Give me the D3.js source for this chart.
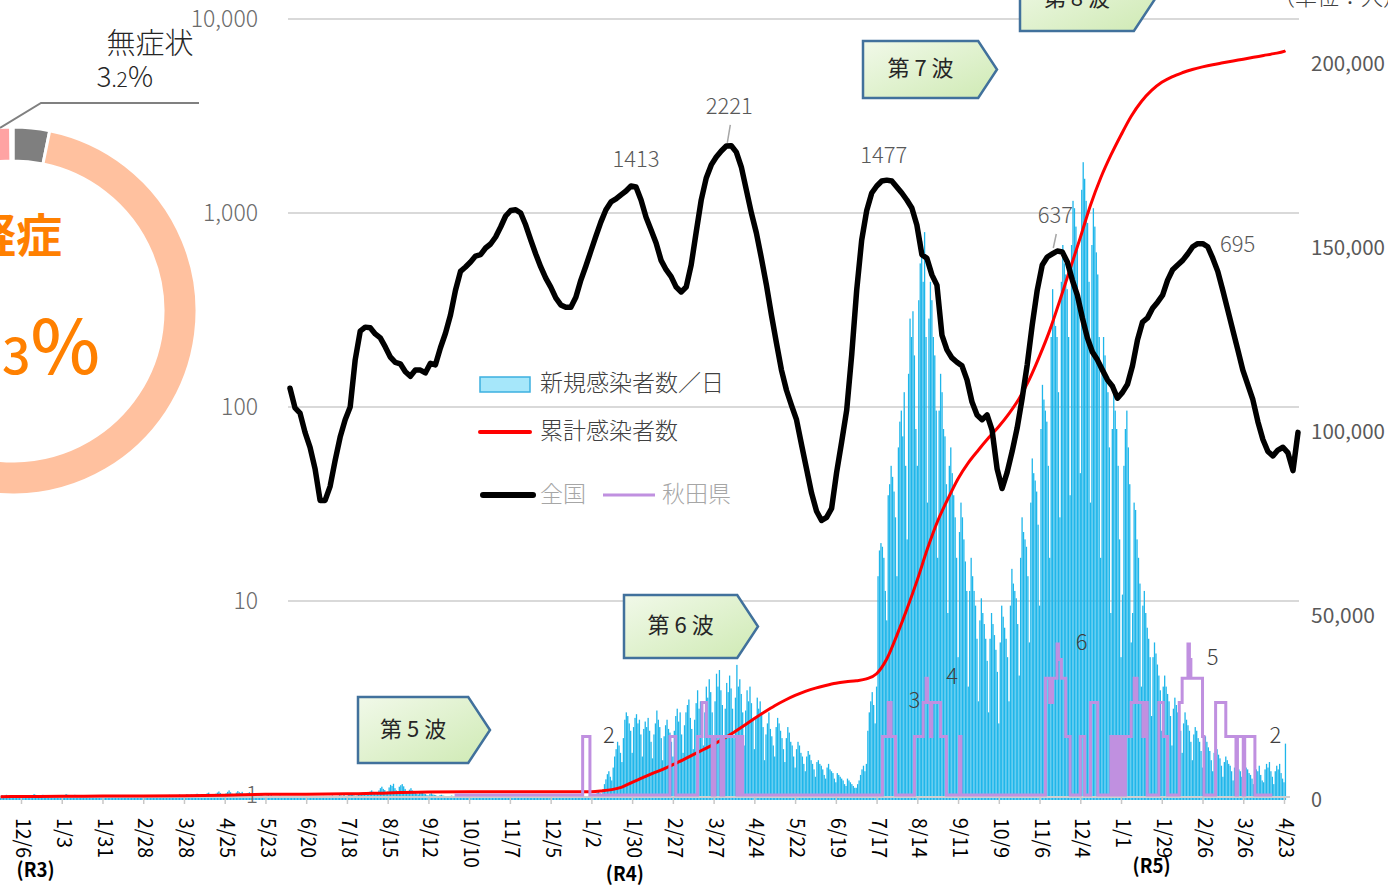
<!DOCTYPE html>
<html><head><meta charset="utf-8">
<script src="https://cdn.jsdelivr.net/npm/d3@7"></script>
<style>
html,body{margin:0;padding:0;background:#fff;overflow:hidden}
svg{display:block}
text{font-family:"Noto Sans CJK JP","Noto Sans",sans-serif}
</style></head><body>
<svg id="c" width="1388" height="885"></svg>
<script>
// ---------------- DATA ----------------
const barStart = "2020-11-22";
const dailyNew = [
2,5,3,4,6,2,1, 1,3,2,0,4,2,1, 0,2,5,3,1,2,0, 1,4,8,6,3,2,1, 2,6,4,3,5,1,0,
0,1,3,2,4,1,0, 1,3,5,8,6,4,2, 2,4,6,3,2,1,3, 1,2,4,3,1,0,2, 1,0,2,1,3,1,0,
0,1,0,2,1,0,1, 0,2,1,0,3,1,0, 1,0,2,4,1,0,0, 0,1,3,2,1,0,1, 1,2,0,1,3,2,0,
0,1,2,5,3,1,2, 1,3,4,2,6,3,1, 2,4,3,5,7,2,1, 3,5,8,6,4,7,3, 2,6,9,7,5,8,4,
3,7,10,12,8,6,5, 4,9,12,15,11,8,6, 5,10,14,18,13,9,7, 6,12,16,13,11,14,8, 5,9,11,13,8,6,4,
3,6,8,5,7,4,2, 2,4,6,3,5,2,1, 1,3,2,4,2,1,0, 0,2,1,3,1,0,1, 1,0,2,1,0,1,0,
0,1,0,2,1,0,0, 0,1,2,0,1,3,1, 1,2,3,1,4,2,1, 2,3,5,4,3,6,2, 3,5,7,6,8,4,3,
4,8,10,9,12,7,5, 6,12,15,18,14,11,8, 9,18,24,28,22,19,14, 15,26,33,30,36,24,18, 16,28,32,35,29,22,15,
12,20,24,18,16,14,9, 7,12,15,11,9,8,5, 4,8,10,7,6,5,3, 3,5,6,4,3,2,1, 1,3,4,2,2,1,0,
0,2,1,3,1,0,1, 1,0,2,1,0,1,0, 0,1,0,0,1,0,0, 0,0,1,0,0,1,0, 0,1,0,0,2,0,0,
0,0,1,1,0,0,0, 0,1,0,0,0,1,0, 0,0,0,1,0,0,0, 0,1,0,0,0,0,1, 0,0,1,0,0,0,0,
0,0,0,1,0,2,0, 0,1,0,0,1,0,0, 0,0,1,2,1,3,2, 1,3,5,8,12,15,10, 8,20,35,48,62,70,55,
45,80,110,130,150,140,120, 95,160,210,230,220,200,180, 120,190,215,225,200,210,170,
110,185,205,190,215,180,150, 105,170,200,235,210,190,160, 100,165,195,210,185,175,150,
110,180,220,240,205,230,170, 120,195,230,250,265,215,185, 130,210,255,290,240,260,200,
140,230,300,270,320,285,230, 150,260,335,300,345,290,250, 145,240,310,285,330,295,240,
160,270,359,300,320,280,230, 140,235,290,260,300,255,210, 130,215,270,240,260,230,190,
100,170,200,230,185,165,140, 110,190,215,200,180,160,130, 95,160,190,175,150,140,110,
80,130,150,140,120,110,90, 70,110,125,115,100,90,75, 55,95,100,90,85,75,60,
50,80,90,75,70,65,50, 40,65,60,55,50,45,35, 30,50,45,40,35,30,25,
25,35,45,60,75,85,70, 90,180,230,260,285,250,200, 300,600,670,690,680,650,560,
480,820,850,900,870,830,760, 600,950,1020,1050,980,1100,900, 700,1150,1300,1250,1320,1200,1000,
900,1350,1450,1510,1400,1535,1250, 800,1300,1400,1350,1250,1200,1050, 650,1050,1150,1100,1000,980,850,
500,900,950,880,820,760,650, 380,720,800,760,700,640,560, 300,560,650,600,560,520,430,
260,480,540,500,470,430,370, 230,430,500,470,440,400,340, 200,420,520,490,460,430,380,
260,520,620,580,560,540,470, 330,650,760,720,700,680,600, 420,800,920,880,860,830,740,
520,1000,1120,1080,1050,1020,900, 650,1250,1380,1300,1280,1250,1100, 760,1400,1500,1450,1420,1380,1250,
820,1500,1620,1600,1550,1500,1350, 880,1650,1725,1680,1620,1560,1400, 800,1500,1600,1550,1480,1420,1250,
650,1150,1250,1200,1150,1100,950, 500,1000,1100,1050,1000,900,700, 380,550,900,1000,1050,950,850,
420,500,800,780,700,650,580, 300,520,560,500,460,430,380, 220,380,420,390,360,330,290,
180,300,330,300,280,260,220, 140,240,270,250,230,210,180, 120,200,230,210,195,180,150,
100,170,190,180,160,150,125, 80,140,165,150,135,125,100, 70,120,140,130,115,105,85,
55,95,110,100,90,85,70, 45,80,95,85,75,70,55, 40,70,80,75,65,60,50,
35,65,75,70,85,60,45, 40,75,90,80,95,70,55, 35,70,85,75,90,65,50,
40,145
];

const cumDates = ["2020-11-22","2020-12-06","2021-01-03","2021-01-31","2021-02-28","2021-03-28","2021-04-25","2021-05-23","2021-06-20","2021-07-18","2021-08-15","2021-09-12","2021-10-10","2021-11-07","2021-12-05",
"2022-01-02","2022-01-09","2022-01-16","2022-01-23","2022-01-30","2022-02-06","2022-02-13","2022-02-20","2022-02-27","2022-03-06","2022-03-13","2022-03-20","2022-03-27","2022-04-03","2022-04-10","2022-04-17","2022-04-24","2022-05-01","2022-05-08","2022-05-15","2022-05-22","2022-05-29","2022-06-05","2022-06-12","2022-06-19","2022-06-26","2022-07-03","2022-07-10","2022-07-17","2022-07-24","2022-07-31","2022-08-07","2022-08-14","2022-08-21","2022-08-28","2022-09-04","2022-09-11","2022-09-18","2022-09-25","2022-10-02","2022-10-09","2022-10-16","2022-10-23","2022-10-30","2022-11-06","2022-11-13","2022-11-20","2022-11-27","2022-12-04","2022-12-11","2022-12-18","2022-12-25",
"2023-01-01","2023-01-08","2023-01-15","2023-01-22","2023-01-29","2023-02-05","2023-02-12","2023-02-19","2023-02-26","2023-03-05","2023-03-12","2023-03-19","2023-03-26","2023-04-02","2023-04-09","2023-04-16","2023-04-23","2023-04-24"];
const cumValues = [100,120,200,250,270,330,500,720,780,850,1100,1350,1400,1410,1420,
1450,1650,2000,2700,4000,5200,6400,7500,8800,10100,11500,12900,14300,15900,17600,19400,21300,23100,24800,26300,27600,28700,29600,30300,30900,31300,31600,32100,33500,37500,44000,51200,59000,67500,75000,81000,86500,90800,94300,97600,100700,104200,108300,113500,119800,126800,135000,143500,152000,160800,168200,174400,
179900,185000,189000,192000,194200,195700,196800,197700,198400,199000,199500,200000,200500,201000,201500,202000,202600,202800];

const nationalValues = [
125,99,93,74,62,48,33,33,39,53,70,86,100,175,246,258,256,238,227,204,
181,170,167,152,144,155,155,150,168,165,202,240,298,400,500,527,559,600,610,660,
692,752,847,965,1030,1040,1000,867,726,615,527,462,415,365,336,327,327,368,451,533,
637,761,900,1040,1140,1181,1240,1298,1378,1362,1167,950,817,700,570,510,470,415,392,415,
540,798,1167,1515,1770,1944,2088,2215,2221,2060,1726,1314,1000,789,585,425,298,214,155,122,
102,86,64,48,36,29,26,27,30,46,66,96,185,400,726,1030,1268,1378,1462,1477,
1462,1362,1268,1167,1061,867,610,585,480,425,235,197,179,170,163,138,106,91,86,91,
76,48,38,46,59,78,111,165,264,400,540,593,615,637,630,559,451,377,288,227,
192,175,155,138,128,111,119,131,163,222,274,288,323,347,377,451,510,540,570,615,
670,695,695,670,585,500,400,316,249,197,155,130,109,84,68,59,56,60,62,58,
47,74
];
const nationalLabelIdx = [68, 88, 119, 153, 181];
const nationalLabelText = ["1413","2221","1477","637","695"];

const akitaRunDates = ["2021-09-30","2021-12-27","2022-01-01","2022-02-25","2022-03-01","2022-03-16","2022-03-19","2022-03-22","2022-03-26","2022-03-28","2022-04-01","2022-04-03","2022-04-12","2022-04-14","2022-04-16",
"2022-07-21","2022-07-25","2022-07-27","2022-07-30","2022-08-12","2022-08-18","2022-08-20","2022-08-21","2022-08-23","2022-08-24","2022-08-30","2022-09-03","2022-09-12","2022-09-13",
"2022-11-10","2022-11-13","2022-11-15","2022-11-18","2022-11-19","2022-11-21","2022-11-24","2022-11-27","2022-12-04","2022-12-07","2022-12-11","2022-12-16","2022-12-25","2022-12-27","2022-12-28","2022-12-30",
"2023-01-01","2023-01-03","2023-01-04","2023-01-08","2023-01-10","2023-01-12","2023-01-16","2023-01-18","2023-01-19","2023-01-27","2023-01-30","2023-02-02","2023-02-10","2023-02-12","2023-02-16","2023-02-17","2023-02-18","2023-02-26","2023-02-27","2023-03-07","2023-03-14","2023-03-21","2023-03-22","2023-03-26","2023-03-27","2023-04-03"];
const akitaRunValues = [1,2,1,2,1,2,3,2,1,2,1,2,1,2,1,
2,3,2,1,2,3,4,3,2,3,2,1,2,1,
4,3,4,6,5,4,2,1,2,1,3,1,2,1,2,1,
2,1,2,3,4,3,2,3,1,3,2,1,3,4,6,5,4,2,1,3,2,1,2,1,2,1];
const akitaEndDate = "2023-04-15";
const akitaLabelDates = ["2022-01-14","2022-08-12","2022-09-07","2022-12-05","2023-03-05","2023-04-17"];
const akitaLabelValues = [2,3,4,6,5,2];

const xTickDates = ["2020-12-06","2021-01-03","2021-01-31","2021-02-28","2021-03-28","2021-04-25","2021-05-23","2021-06-20","2021-07-18","2021-08-15","2021-09-12","2021-10-10","2021-11-07","2021-12-05",
"2022-01-02","2022-01-30","2022-02-27","2022-03-27","2022-04-24","2022-05-22","2022-06-19","2022-07-17","2022-08-14","2022-09-11","2022-10-09","2022-11-06","2022-12-04",
"2023-01-01","2023-01-29","2023-02-26","2023-03-26","2023-04-23"];
const xTickLabels = ["12/6","1/3","1/31","2/28","3/28","4/25","5/23","6/20","7/18","8/15","9/12","10/10","11/7","12/5","1/2","1/30","2/27","3/27","4/24","5/22","6/19","7/17","8/14","9/11","10/9","11/6","12/4","1/1","1/29","2/26","3/26","4/23"];
const eraLabels = ["(R3)","(R4)","(R5)"];
const eraDates = ["2020-12-16","2022-01-25","2023-01-22"];

const logTicks = [1,10,100,1000,10000];
const rightTicks = [0,50000,100000,150000,200000];

const waveLabels = ["第 5 波","第 6 波","第 7 波","第 8 波"];
const legendLabels = ["新規感染者数／日","累計感染者数","全国","秋田県"];

const donutNames = ["無症状","軽症","中等症","重症"];
const donutValues = [3.2, 93.3, 3.3, 0.2];
const donutColors = ["#7f7f7f","#ffc19f","#ffa3a3","#ff8080"];

// ---------------- DRAW ----------------
const parse = d3.utcParse("%Y-%m-%d");
const svg = d3.select("#c");

const x = d3.scaleUtc().domain([parse("2020-12-06"), parse("2023-04-23")]).range([21, 1284]);
const yLog = d3.scaleLog().domain([1, 10000]).range([795, 19]);
const yRight = d3.scaleLinear().domain([0, 200000]).range([797, 61]);
const yBar = d3.scaleLinear().domain([0, 2000]).range([797, 61]);
const xNat = d3.scaleLinear().domain([0, nationalValues.length - 1]).range([290, 1298]);

const defs = svg.append("defs");
const grad = defs.append("linearGradient").attr("id","wg").attr("x1","0").attr("y1","0").attr("x2","1").attr("y2","1");
grad.append("stop").attr("offset","0").attr("stop-color","#f1f9e9");
grad.append("stop").attr("offset","1").attr("stop-color","#cfeab4");

// ---- donut (left, partially visible)
const pie = d3.pie().sort(null).value(d => d);
const arc = d3.arc().innerRadius(150).outerRadius(184);
const dg = svg.append("g").attr("transform","translate(13,311)");
dg.selectAll("path").data(pie(donutValues)).join("path")
  .attr("d", arc).attr("fill", (d,i)=>donutColors[i]).attr("stroke","#fff").attr("stroke-width",3);
svg.append("path").attr("d","M0,128 L41,103 L199,103").attr("fill","none").attr("stroke","#808080").attr("stroke-width",2);
svg.append("text").attr("x",150).attr("y",46).attr("text-anchor","middle").attr("dominant-baseline","middle")
  .attr("font-size",29).attr("font-weight",300).attr("fill","#262626").text(donutNames[0]);
const pt = svg.append("text").attr("x",153).attr("y",87).attr("text-anchor","end").attr("fill","#262626").attr("font-weight",300);
pt.append("tspan").attr("font-size",28).text("3");
pt.append("tspan").attr("font-size",21).text(".2");
pt.append("tspan").attr("font-size",28).text("%");
svg.append("text").attr("x",62).attr("y",240).attr("text-anchor","end").attr("dominant-baseline","middle")
  .attr("font-size",46).attr("font-weight",700).attr("fill","#ff8000").text(donutNames[1]);
const pm = svg.append("text").attr("x",100).attr("y",374).attr("text-anchor","end").attr("fill","#ff8000").attr("font-weight",500);
pm.append("tspan").attr("font-size",74).text("93");
pm.append("tspan").attr("font-size",50).text(".3");
pm.append("tspan").attr("font-size",74).text("%");

// ---- gridlines (log axis)
svg.append("g").selectAll("line").data(logTicks.slice(1)).join("line")
  .attr("x1",288).attr("x2",1299).attr("y1",d=>yLog(d)).attr("y2",d=>yLog(d))
  .attr("stroke","#d9d9d9").attr("stroke-width",2);

// ---- bars
const t0 = parse(barStart);
const barData = dailyNew.map((v,i)=>({date: d3.utcDay.offset(t0, i), v}));
svg.append("g").selectAll("rect").data(barData).join("rect")
  .attr("x", d => x(d.date) - 0.65).attr("width", 1.3)
  .attr("y", d => yBar(d.v)).attr("height", d => yBar(0) + 3 - yBar(d.v))
  .attr("fill", "#1fb6ea");

// ---- x axis
const xAxis = d3.axisBottom(x).tickValues(xTickDates.map(parse)).tickSize(7).tickFormat((d,i)=>xTickLabels[i]);
const gx = svg.append("g").attr("transform","translate(0,797)").call(xAxis);
gx.select(".domain").attr("d","M0,0H1290").attr("stroke","#d0d0d0").attr("stroke-width",2);
gx.selectAll(".tick line").attr("stroke","#c8c8c8").attr("stroke-width",1.5);
gx.selectAll(".tick text")
  .attr("font-family","'Noto Sans CJK JP',sans-serif").attr("font-size",20).attr("fill","#000")
  .attr("text-anchor","start").attr("dy",null).attr("y",0)
  .attr("dominant-baseline","middle")
  .attr("transform","translate(0,21) rotate(90)")
  .attr("textLength", (d,i)=>xTickLabels[i].length*10).attr("lengthAdjust","spacingAndGlyphs");
svg.append("g").selectAll("text").data(eraLabels).join("text")
  .attr("x",(d,i)=>x(parse(eraDates[i]))).attr("y",(d,i)=>[872,876,868][i])
  .attr("text-anchor","middle").attr("dominant-baseline","middle")
  .attr("font-size",20).attr("font-weight",700).attr("fill","#000")
  .attr("textLength",38).attr("lengthAdjust","spacingAndGlyphs").text(d=>d);

// ---- left (log) axis
const yAxisL = d3.axisLeft(yLog).tickValues(logTicks).tickSize(0).tickFormat(d3.format(","));
const gl = svg.append("g").attr("transform","translate(262,0)").call(yAxisL);
gl.select(".domain").remove();
gl.selectAll("text").attr("font-size",23).attr("font-weight",300).attr("fill","#6b6b6b")
  .attr("font-family","'Noto Sans CJK JP',sans-serif").attr("x",-4);

// ---- right axis
const yAxisR = d3.axisRight(yRight).tickValues(rightTicks).tickSize(0).tickFormat(d3.format(","));
const gr = svg.append("g").attr("transform","translate(1305,3)").call(yAxisR);
gr.select(".domain").remove();
gr.selectAll("text").attr("font-family","'Liberation Mono',monospace").attr("font-size",20).attr("fill","#595959")
  .attr("x",6)
  .attr("textLength",d=>d===0?11:(d>=100000?74:64)).attr("lengthAdjust","spacingAndGlyphs");

// ---- cumulative (red)
const redLine = d3.line().x(d=>x(d[0])).y(d=>yRight(d[1])).curve(d3.curveMonotoneX);
svg.append("path").datum(cumDates.map((d,i)=>[parse(d), cumValues[i]]))
  .attr("d", redLine).attr("fill","none").attr("stroke","#ff0000").attr("stroke-width",3);

// ---- Akita (purple) step line on log axis
const akPts = akitaRunDates.map((d,i)=>[parse(d), akitaRunValues[i]]);
akPts.push([parse(akitaEndDate), akitaRunValues[akitaRunValues.length-1]]);
const purpleLine = d3.line().x(d=>x(d[0])).y(d=>yLog(d[1])).curve(d3.curveStepAfter);
svg.append("path").datum(akPts).attr("d", purpleLine).attr("fill","none")
  .attr("stroke","#c090e0").attr("stroke-width",3);
svg.append("g").selectAll("text").data(akitaLabelValues).join("text")
  .attr("x",(d,i)=>x(parse(akitaLabelDates[i]))).attr("y",d=>yLog(d))
  .attr("text-anchor","middle").attr("dominant-baseline","middle")
  .attr("font-size",22).attr("font-weight",300).attr("fill","#404040").text(d=>d);

// ---- national (black) on log axis
const blackLine = d3.line().x((d,i)=>xNat(i)).y(d=>yLog(d)).curve(d3.curveLinear);
svg.append("path").datum(nationalValues).attr("d", blackLine).attr("fill","none")
  .attr("stroke","#000").attr("stroke-width",5.5).attr("stroke-linejoin","round").attr("stroke-linecap","round");
const nlOff = [[5,-25],[-2,-38],[-3,-23],[-2,-34],[40,2]];
const nl = svg.append("g");
nationalLabelIdx.forEach((idx,k)=>{
  const px = xNat(idx), py = yLog(nationalValues[idx]);
  if (k===1 || k===3) {
    nl.append("line").attr("x1",px+nlOff[k][0]+1).attr("y1",py+nlOff[k][1]+17)
      .attr("x2",px-4).attr("y2",py-3).attr("stroke","#a6a6a6").attr("stroke-width",1.5);
  }
  nl.append("text").attr("x",px+nlOff[k][0]).attr("y",py+nlOff[k][1])
    .attr("text-anchor","middle").attr("dominant-baseline","middle")
    .attr("font-size",22).attr("font-weight",300).attr("fill","#595959").text(nationalLabelText[k]);
});

// ---- legend
const lg = svg.append("g");
lg.append("rect").attr("x",480).attr("y",377).attr("width",50).attr("height",15)
  .attr("fill","#a6e7fa").attr("stroke","#3cb0e0").attr("stroke-width",1.5);
lg.append("line").attr("x1",480).attr("x2",530).attr("y1",432).attr("y2",432).attr("stroke","#ff0000").attr("stroke-width",4).attr("stroke-linecap","round");
lg.append("line").attr("x1",483).attr("x2",533).attr("y1",495).attr("y2",495).attr("stroke","#000").attr("stroke-width",6).attr("stroke-linecap","round");
lg.append("line").attr("x1",603).attr("x2",655).attr("y1",495).attr("y2",495).attr("stroke","#c090e0").attr("stroke-width",3);
const lgPos = [[540,385,"#404040"],[540,433,"#404040"],[540,496,"#a6a6a6"],[662,496,"#a6a6a6"]];
lg.selectAll("text").data(legendLabels).join("text")
  .attr("x",(d,i)=>lgPos[i][0]).attr("y",(d,i)=>lgPos[i][1]).attr("dominant-baseline","middle")
  .attr("font-size",23).attr("font-weight",300).attr("fill",(d,i)=>lgPos[i][2]).text(d=>d);

// ---- wave boxes
const waveBoxes = [[358,697,763,490],[624,595,658,758],[863,41,98,997],[1020,-33,31,1155]];
waveBoxes.forEach((b,i)=>{
  const [x0,y0,y1,xp] = b; const ym=(y0+y1)/2; const x1 = xp - (y1-y0)*0.33;
  svg.append("path").attr("d",`M${x0},${y0}L${x1},${y0}L${xp},${ym}L${x1},${y1}L${x0},${y1}Z`)
    .attr("fill","url(#wg)").attr("stroke","#41719c").attr("stroke-width",2.5);
  svg.append("text").attr("x",(x0+x1)/2).attr("y",ym+1).attr("text-anchor","middle").attr("dominant-baseline","middle")
    .attr("font-size",22).attr("font-weight",400).attr("fill","#262626").text(waveLabels[i]);
});

// ---- unit label (cut at top)
svg.append("text").attr("x",1273).attr("y",-1).attr("dominant-baseline","middle")
  .attr("font-size",22).attr("font-weight",300).attr("fill","#404040").text("（単位：人）");
</script>
</body></html>
